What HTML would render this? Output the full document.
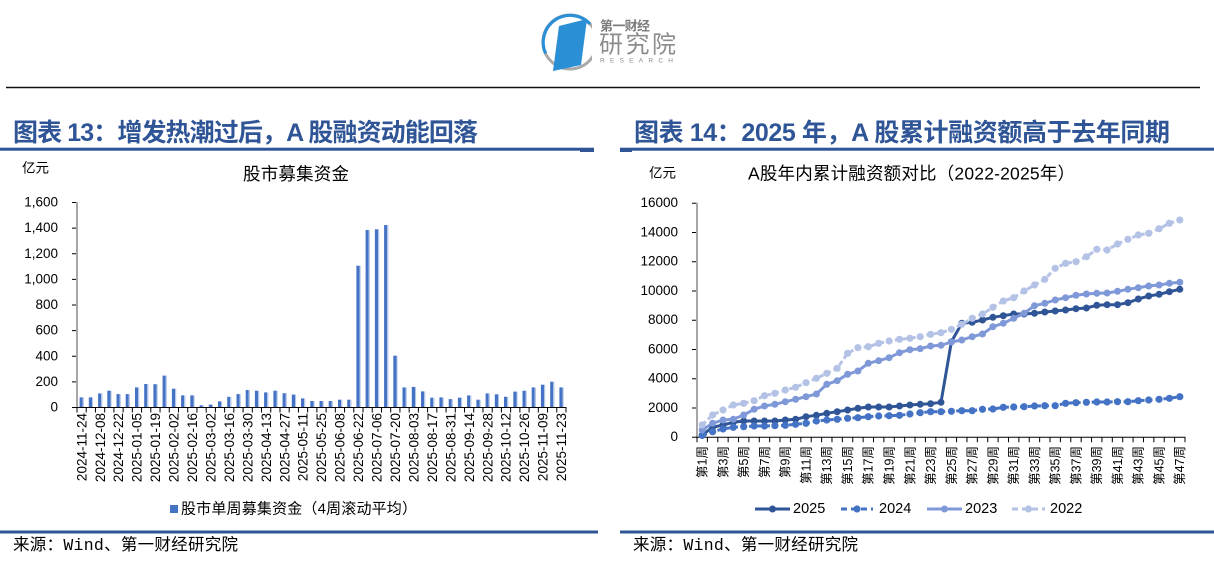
<!DOCTYPE html>
<html><head><meta charset="utf-8"><style>
html,body{margin:0;padding:0;background:#fff;}
svg{display:block;}
text{font-family:"Liberation Sans","Noto Sans CJK SC",sans-serif;fill:#000;}
.ttl{font-weight:bold;fill:#2f5597;font-size:25px;}
.yl{font-size:13.5px;text-anchor:end;}
.xl{font-size:13.5px;text-anchor:end;}
.xr{font-size:12.5px;text-anchor:end;}
.ft{font-family:"Liberation Mono","Noto Sans CJK SC",monospace;font-size:16.5px;}
</style></head><body>
<svg width="1214" height="565" viewBox="0 0 1214 565" xmlns="http://www.w3.org/2000/svg">
<defs>
<linearGradient id="bg" x1="0" y1="0" x2="1" y2="0">
<stop offset="0" stop-color="#4472c4"/><stop offset="0.7" stop-color="#4472c4"/><stop offset="0.7" stop-color="#b4c7e7"/><stop offset="1" stop-color="#b4c7e7"/>
</linearGradient>
<marker id="m25" viewBox="0 0 8 8" refX="4" refY="4" markerWidth="8" markerHeight="8" markerUnits="userSpaceOnUse"><circle cx="4" cy="4" r="3.5" fill="#2f5597"/></marker>
<marker id="m24" viewBox="0 0 8 8" refX="4" refY="4" markerWidth="8" markerHeight="8" markerUnits="userSpaceOnUse"><circle cx="4" cy="4" r="3.6" fill="#4472c4"/></marker>
<marker id="m23" viewBox="0 0 8 8" refX="4" refY="4" markerWidth="8" markerHeight="8" markerUnits="userSpaceOnUse"><circle cx="4" cy="4" r="3.5" fill="#7f98d8"/></marker>
<marker id="m22" viewBox="0 0 8 8" refX="4" refY="4" markerWidth="8" markerHeight="8" markerUnits="userSpaceOnUse"><circle cx="4" cy="4" r="3.6" fill="#b4c2e6"/></marker>
</defs>

<!-- Logo -->
<circle cx="570" cy="42" r="27" fill="none" stroke="#a9a9a9" stroke-width="3"/>
<path d="M545.6,53.5 A27,27 0 0 1 590,24" fill="none" stroke="#2b8fd6" stroke-width="3.2"/>
<polygon points="559,26 587,19 581,65 553,71" fill="#2b8fd6"/>
<rect x="592" y="14" width="90" height="54" fill="#fff"/>
<text x="600" y="26" style="font-size:13px;fill:#7a7a7a;font-weight:bold;" dominant-baseline="central" textLength="50">第一财经</text>
<text x="599" y="45" style="font-size:24px;fill:#8c8c8c;" dominant-baseline="central" textLength="77">研究院</text>
<text x="600" y="61" style="font-size:6.5px;fill:#8c8c8c;" dominant-baseline="central" textLength="73">RESEARCH</text>
<line x1="6" y1="87.5" x2="1200" y2="87.5" stroke="#111" stroke-width="1.5"/>

<!-- Titles -->
<text class="ttl" x="13" y="133" dominant-baseline="central" textLength="465">图表 13：增发热潮过后，A 股融资动能回落</text>
<text class="ttl" x="634" y="133" dominant-baseline="central" textLength="536">图表 14：2025 年，A 股累计融资额高于去年同期</text>
<rect x="0" y="147.7" width="594" height="3" fill="#2f5597"/>
<rect x="580" y="150" width="14" height="2" fill="#2f5597"/>
<rect x="620" y="147.7" width="594" height="3" fill="#2f5597"/>
<rect x="620" y="150" width="12" height="2" fill="#2f5597"/>

<!-- Left chart -->
<text x="22" y="168" style="font-size:13.5px;" dominant-baseline="central">亿元</text>
<text x="243" y="174" style="font-size:17.5px;" dominant-baseline="central" textLength="106">股市募集资金</text>
<g>
<text class="yl" x="58" y="202" dominant-baseline="central">1,600</text>
<text class="yl" x="58" y="227.6" dominant-baseline="central">1,400</text>
<text class="yl" x="58" y="253.3" dominant-baseline="central">1,200</text>
<text class="yl" x="58" y="278.9" dominant-baseline="central">1,000</text>
<text class="yl" x="58" y="304.5" dominant-baseline="central">800</text>
<text class="yl" x="58" y="330.1" dominant-baseline="central">600</text>
<text class="yl" x="58" y="355.8" dominant-baseline="central">400</text>
<text class="yl" x="58" y="381.4" dominant-baseline="central">200</text>
<text class="yl" x="58" y="407" dominant-baseline="central">0</text>
</g>
<path d="M72,202.5H77M72,228.1H77M72,253.8H77M72,279.4H77M72,305H77M72,330.6H77M72,356.3H77M72,381.9H77M72,407.5H77" stroke="#000" stroke-width="1"/>
<g fill="url(#bg)">
<rect x="79.6" y="397.4" width="4.3" height="9.6"/>
<rect x="88.8" y="397.4" width="4.3" height="9.6"/>
<rect x="98.1" y="393.4" width="4.3" height="13.6"/>
<rect x="107.3" y="390.7" width="4.3" height="16.3"/>
<rect x="116.5" y="394.1" width="4.3" height="12.9"/>
<rect x="125.7" y="394.1" width="4.3" height="12.9"/>
<rect x="135.0" y="387.4" width="4.3" height="19.6"/>
<rect x="144.2" y="384.0" width="4.3" height="23.0"/>
<rect x="153.4" y="384.2" width="4.3" height="22.8"/>
<rect x="162.6" y="375.6" width="4.3" height="31.4"/>
<rect x="171.9" y="388.7" width="4.3" height="18.3"/>
<rect x="181.1" y="395.4" width="4.3" height="11.6"/>
<rect x="190.3" y="395.4" width="4.3" height="11.6"/>
<rect x="199.6" y="405.3" width="4.3" height="1.7"/>
<rect x="208.8" y="404.6" width="4.3" height="2.4"/>
<rect x="218.0" y="401.4" width="4.3" height="5.6"/>
<rect x="227.2" y="396.8" width="4.3" height="10.2"/>
<rect x="236.5" y="394.1" width="4.3" height="12.9"/>
<rect x="245.7" y="390.0" width="4.3" height="17.0"/>
<rect x="254.9" y="390.7" width="4.3" height="16.3"/>
<rect x="264.1" y="392.4" width="4.3" height="14.6"/>
<rect x="273.4" y="390.7" width="4.3" height="16.3"/>
<rect x="282.6" y="393.2" width="4.3" height="13.8"/>
<rect x="291.8" y="394.6" width="4.3" height="12.4"/>
<rect x="301.0" y="398.4" width="4.3" height="8.6"/>
<rect x="310.3" y="401.0" width="4.3" height="6.0"/>
<rect x="319.5" y="401.0" width="4.3" height="6.0"/>
<rect x="328.7" y="401.0" width="4.3" height="6.0"/>
<rect x="338.0" y="399.7" width="4.3" height="7.3"/>
<rect x="347.2" y="399.7" width="4.3" height="7.3"/>
<rect x="356.4" y="265.7" width="4.3" height="141.3"/>
<rect x="365.6" y="230.0" width="4.3" height="177.0"/>
<rect x="374.9" y="229.3" width="4.3" height="177.7"/>
<rect x="384.1" y="225.0" width="4.3" height="182.0"/>
<rect x="393.3" y="355.7" width="4.3" height="51.3"/>
<rect x="402.5" y="387.4" width="4.3" height="19.6"/>
<rect x="411.8" y="386.9" width="4.3" height="20.1"/>
<rect x="421.0" y="391.4" width="4.3" height="15.6"/>
<rect x="430.2" y="397.7" width="4.3" height="9.3"/>
<rect x="439.4" y="397.4" width="4.3" height="9.6"/>
<rect x="448.7" y="399.1" width="4.3" height="7.9"/>
<rect x="457.9" y="397.7" width="4.3" height="9.3"/>
<rect x="467.1" y="395.4" width="4.3" height="11.6"/>
<rect x="476.4" y="399.7" width="4.3" height="7.3"/>
<rect x="485.6" y="393.4" width="4.3" height="13.6"/>
<rect x="494.8" y="394.3" width="4.3" height="12.7"/>
<rect x="504.0" y="396.8" width="4.3" height="10.2"/>
<rect x="513.3" y="391.6" width="4.3" height="15.4"/>
<rect x="522.5" y="390.7" width="4.3" height="16.3"/>
<rect x="531.7" y="387.4" width="4.3" height="19.6"/>
<rect x="540.9" y="384.7" width="4.3" height="22.3"/>
<rect x="550.2" y="381.7" width="4.3" height="25.3"/>
<rect x="559.4" y="387.4" width="4.3" height="19.6"/>
</g>
<line x1="77" y1="202" x2="77" y2="407" stroke="#a6a6a6" stroke-width="2"/>
<line x1="76" y1="407.5" x2="566.5" y2="407.5" stroke="#000" stroke-width="1"/>
<line x1="76.5" y1="410" x2="567" y2="410" stroke="#000" stroke-width="5" stroke-dasharray="1 8.2264"/>
<g class="xlg">
<text class="xl" transform="translate(81.6,413) rotate(-90)" dy="0.35em">2024-11-24</text>
<text class="xl" transform="translate(100.1,413) rotate(-90)" dy="0.35em">2024-12-08</text>
<text class="xl" transform="translate(118.5,413) rotate(-90)" dy="0.35em">2024-12-22</text>
<text class="xl" transform="translate(137.0,413) rotate(-90)" dy="0.35em">2025-01-05</text>
<text class="xl" transform="translate(155.4,413) rotate(-90)" dy="0.35em">2025-01-19</text>
<text class="xl" transform="translate(173.9,413) rotate(-90)" dy="0.35em">2025-02-02</text>
<text class="xl" transform="translate(192.3,413) rotate(-90)" dy="0.35em">2025-02-16</text>
<text class="xl" transform="translate(210.8,413) rotate(-90)" dy="0.35em">2025-03-02</text>
<text class="xl" transform="translate(229.2,413) rotate(-90)" dy="0.35em">2025-03-16</text>
<text class="xl" transform="translate(247.7,413) rotate(-90)" dy="0.35em">2025-03-30</text>
<text class="xl" transform="translate(266.1,413) rotate(-90)" dy="0.35em">2025-04-13</text>
<text class="xl" transform="translate(284.6,413) rotate(-90)" dy="0.35em">2025-04-27</text>
<text class="xl" transform="translate(303.0,413) rotate(-90)" dy="0.35em">2025-05-11</text>
<text class="xl" transform="translate(321.5,413) rotate(-90)" dy="0.35em">2025-05-25</text>
<text class="xl" transform="translate(340.0,413) rotate(-90)" dy="0.35em">2025-06-08</text>
<text class="xl" transform="translate(358.4,413) rotate(-90)" dy="0.35em">2025-06-22</text>
<text class="xl" transform="translate(376.9,413) rotate(-90)" dy="0.35em">2025-07-06</text>
<text class="xl" transform="translate(395.3,413) rotate(-90)" dy="0.35em">2025-07-20</text>
<text class="xl" transform="translate(413.8,413) rotate(-90)" dy="0.35em">2025-08-03</text>
<text class="xl" transform="translate(432.2,413) rotate(-90)" dy="0.35em">2025-08-17</text>
<text class="xl" transform="translate(450.7,413) rotate(-90)" dy="0.35em">2025-08-31</text>
<text class="xl" transform="translate(469.1,413) rotate(-90)" dy="0.35em">2025-09-14</text>
<text class="xl" transform="translate(487.6,413) rotate(-90)" dy="0.35em">2025-09-28</text>
<text class="xl" transform="translate(506.0,413) rotate(-90)" dy="0.35em">2025-10-12</text>
<text class="xl" transform="translate(524.5,413) rotate(-90)" dy="0.35em">2025-10-26</text>
<text class="xl" transform="translate(542.9,413) rotate(-90)" dy="0.35em">2025-11-09</text>
<text class="xl" transform="translate(561.4,413) rotate(-90)" dy="0.35em">2025-11-23</text>
</g>
<rect x="170" y="505" width="8" height="8" fill="#4472c4"/>
<text x="181" y="509" style="font-size:15px;" dominant-baseline="central" textLength="236">股市单周募集资金（4周滚动平均）</text>

<!-- Right chart -->
<text x="649" y="173" style="font-size:13.5px;" dominant-baseline="central">亿元</text>
<text x="748" y="173.5" style="font-size:17.5px;" dominant-baseline="central" textLength="327">A股年内累计融资额对比（2022-2025年）</text>
<g>
<text class="yl" x="678" y="202.7" dominant-baseline="central">16000</text>
<text class="yl" x="678" y="232" dominant-baseline="central">14000</text>
<text class="yl" x="678" y="261.2" dominant-baseline="central">12000</text>
<text class="yl" x="678" y="290.5" dominant-baseline="central">10000</text>
<text class="yl" x="678" y="319.7" dominant-baseline="central">8000</text>
<text class="yl" x="678" y="349" dominant-baseline="central">6000</text>
<text class="yl" x="678" y="378.2" dominant-baseline="central">4000</text>
<text class="yl" x="678" y="407.5" dominant-baseline="central">2000</text>
<text class="yl" x="678" y="436.7" dominant-baseline="central">0</text>
</g>
<path d="M692,203.2H697M692,232.5H697M692,261.7H697M692,291H697M692,320.2H697M692,349.5H697M692,378.7H697M692,408H697M692,437.2H697" stroke="#000" stroke-width="1"/>
<line x1="697" y1="202.7" x2="697" y2="437" stroke="#a6a6a6" stroke-width="2"/>
<line x1="696" y1="437.2" x2="1185.5" y2="437.2" stroke="#000" stroke-width="1"/>
<line x1="696.5" y1="439.7" x2="1186" y2="439.7" stroke="#000" stroke-width="5" stroke-dasharray="1 9.383"/>

<polyline fill="none" stroke="#2f5597" stroke-width="3" stroke-linejoin="round" marker-start="url(#m25)" marker-mid="url(#m25)" marker-end="url(#m25)" points="702.2,435.0 712.6,427.3 723.0,425.0 733.3,422.3 743.7,421.0 754.1,421.0 764.5,421.0 774.9,421.0 785.3,420.0 795.6,419.3 806.0,416.7 816.4,415.3 826.8,413.3 837.2,411.7 847.6,410.0 857.9,408.3 868.3,407.0 878.7,407.0 889.1,407.0 899.5,406.0 909.9,405.0 920.2,404.3 930.6,403.7 941.0,402.3 951.4,341.7 961.8,323.3 972.2,322.3 982.5,320.0 992.9,317.3 1003.3,315.7 1013.7,314.0 1024.1,314.0 1034.5,313.3 1044.8,312.0 1055.2,311.0 1065.6,310.0 1076.0,308.7 1086.4,308.0 1096.8,305.3 1107.1,304.7 1117.5,304.7 1127.9,302.7 1138.3,299.0 1148.7,296.0 1159.1,294.3 1169.4,291.7 1179.8,289.3"/>
<polyline fill="none" stroke="#4472c4" stroke-width="3" stroke-dasharray="5 3" marker-start="url(#m24)" marker-mid="url(#m24)" marker-end="url(#m24)" points="702.2,435.5 712.6,431.7 723.0,429.0 733.3,427.3 743.7,426.7 754.1,426.0 764.5,426.0 774.9,425.7 785.3,425.3 795.6,424.3 806.0,423.3 816.4,421.0 826.8,420.0 837.2,419.3 847.6,418.3 857.9,417.7 868.3,416.7 878.7,416.0 889.1,415.7 899.5,415.3 909.9,414.0 920.2,412.7 930.6,411.7 941.0,411.7 951.4,411.3 961.8,410.7 972.2,410.7 982.5,409.3 992.9,409.0 1003.3,407.3 1013.7,407.0 1024.1,406.7 1034.5,406.0 1044.8,405.7 1055.2,405.7 1065.6,403.3 1076.0,402.7 1086.4,402.3 1096.8,402.0 1107.1,402.0 1117.5,401.7 1127.9,401.7 1138.3,400.7 1148.7,400.0 1159.1,399.3 1169.4,398.3 1179.8,396.7"/>
<polyline fill="none" stroke="#7f98d8" stroke-width="3" stroke-linejoin="round" marker-start="url(#m23)" marker-mid="url(#m23)" marker-end="url(#m23)" points="702.2,430.0 712.6,423.3 723.0,420.0 733.3,419.3 743.7,415.0 754.1,409.3 764.5,406.0 774.9,404.3 785.3,401.7 795.6,399.3 806.0,396.7 816.4,394.0 826.8,384.3 837.2,380.7 847.6,374.3 857.9,371.0 868.3,363.3 878.7,360.7 889.1,357.7 899.5,352.7 909.9,349.7 920.2,348.7 930.6,346.0 941.0,345.3 951.4,342.0 961.8,340.0 972.2,336.7 982.5,334.0 992.9,326.7 1003.3,323.3 1013.7,318.3 1024.1,313.3 1034.5,305.7 1044.8,303.3 1055.2,300.0 1065.6,297.7 1076.0,295.3 1086.4,294.0 1096.8,293.3 1107.1,293.0 1117.5,291.3 1127.9,289.3 1138.3,287.7 1148.7,286.0 1159.1,285.0 1169.4,283.3 1179.8,282.3"/>
<polyline fill="none" stroke="#b4c2e6" stroke-width="3" stroke-dasharray="5 3" marker-start="url(#m22)" marker-mid="url(#m22)" marker-end="url(#m22)" points="702.2,425.0 712.6,415.0 723.0,410.0 733.3,405.0 743.7,403.3 754.1,400.7 764.5,395.7 774.9,393.3 785.3,390.0 795.6,387.3 806.0,382.7 816.4,378.3 826.8,373.3 837.2,368.3 847.6,353.3 857.9,347.7 868.3,346.7 878.7,343.3 889.1,341.0 899.5,339.3 909.9,338.3 920.2,336.7 930.6,334.3 941.0,332.7 951.4,329.3 961.8,324.3 972.2,318.3 982.5,314.0 992.9,307.3 1003.3,301.0 1013.7,297.7 1024.1,291.0 1034.5,285.0 1044.8,279.3 1055.2,268.3 1065.6,263.3 1076.0,261.7 1086.4,256.7 1096.8,249.3 1107.1,250.0 1117.5,244.0 1127.9,239.3 1138.3,235.0 1148.7,233.3 1159.1,228.7 1169.4,223.3 1179.8,220.0"/>

<g>
<text class="xr" transform="translate(702.2,446) rotate(-90)" dy="0.35em">第1周</text>
<text class="xr" transform="translate(723.0,446) rotate(-90)" dy="0.35em">第3周</text>
<text class="xr" transform="translate(743.7,446) rotate(-90)" dy="0.35em">第5周</text>
<text class="xr" transform="translate(764.5,446) rotate(-90)" dy="0.35em">第7周</text>
<text class="xr" transform="translate(785.3,446) rotate(-90)" dy="0.35em">第9周</text>
<text class="xr" transform="translate(806.0,446) rotate(-90)" dy="0.35em">第11周</text>
<text class="xr" transform="translate(826.8,446) rotate(-90)" dy="0.35em">第13周</text>
<text class="xr" transform="translate(847.6,446) rotate(-90)" dy="0.35em">第15周</text>
<text class="xr" transform="translate(868.3,446) rotate(-90)" dy="0.35em">第17周</text>
<text class="xr" transform="translate(889.1,446) rotate(-90)" dy="0.35em">第19周</text>
<text class="xr" transform="translate(909.9,446) rotate(-90)" dy="0.35em">第21周</text>
<text class="xr" transform="translate(930.6,446) rotate(-90)" dy="0.35em">第23周</text>
<text class="xr" transform="translate(951.4,446) rotate(-90)" dy="0.35em">第25周</text>
<text class="xr" transform="translate(972.2,446) rotate(-90)" dy="0.35em">第27周</text>
<text class="xr" transform="translate(992.9,446) rotate(-90)" dy="0.35em">第29周</text>
<text class="xr" transform="translate(1013.7,446) rotate(-90)" dy="0.35em">第31周</text>
<text class="xr" transform="translate(1034.5,446) rotate(-90)" dy="0.35em">第33周</text>
<text class="xr" transform="translate(1055.2,446) rotate(-90)" dy="0.35em">第35周</text>
<text class="xr" transform="translate(1076.0,446) rotate(-90)" dy="0.35em">第37周</text>
<text class="xr" transform="translate(1096.8,446) rotate(-90)" dy="0.35em">第39周</text>
<text class="xr" transform="translate(1117.5,446) rotate(-90)" dy="0.35em">第41周</text>
<text class="xr" transform="translate(1138.3,446) rotate(-90)" dy="0.35em">第43周</text>
<text class="xr" transform="translate(1159.1,446) rotate(-90)" dy="0.35em">第45周</text>
<text class="xr" transform="translate(1179.8,446) rotate(-90)" dy="0.35em">第47周</text>
</g>

<!-- Right legend -->
<line x1="755" y1="509" x2="790" y2="509" stroke="#2f5597" stroke-width="3"/>
<circle cx="772.5" cy="509" r="3.5" fill="#2f5597"/>
<text x="793" y="509" style="font-size:14.5px;" dominant-baseline="central">2025</text>
<line x1="841" y1="509" x2="873" y2="509" stroke="#4472c4" stroke-width="3" stroke-dasharray="6 4"/>
<circle cx="857" cy="509" r="3.6" fill="#4472c4"/>
<text x="879" y="509" style="font-size:14.5px;" dominant-baseline="central">2024</text>
<line x1="927" y1="509" x2="962" y2="509" stroke="#7f98d8" stroke-width="3"/>
<circle cx="944.5" cy="509" r="3.5" fill="#7f98d8"/>
<text x="965" y="509" style="font-size:14.5px;" dominant-baseline="central">2023</text>
<line x1="1012" y1="509" x2="1045" y2="509" stroke="#b4c2e6" stroke-width="3" stroke-dasharray="6 4"/>
<circle cx="1028.5" cy="509" r="3.6" fill="#b4c2e6"/>
<text x="1050" y="509" style="font-size:14.5px;" dominant-baseline="central">2022</text>

<!-- Footer -->
<rect x="0" y="530.5" width="598" height="3" fill="#2f5597"/>
<rect x="620" y="530.5" width="594" height="3" fill="#2f5597"/>
<text class="ft" x="13" y="545.5" dominant-baseline="central" textLength="225">来源：Wind、第一财经研究院</text>
<text class="ft" x="633" y="545.5" dominant-baseline="central" textLength="225">来源：Wind、第一财经研究院</text>
</svg>
</body></html>
